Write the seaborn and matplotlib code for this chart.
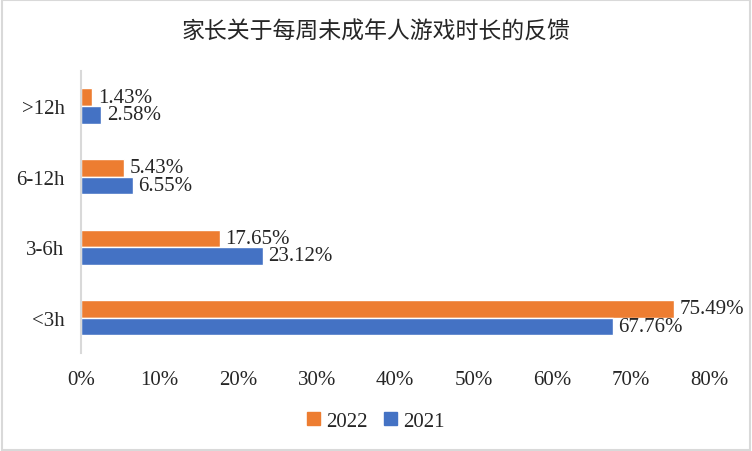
import pandas as pd
import seaborn as sns
import matplotlib.pyplot as plt
from matplotlib.patches import Patch

# data
categories = [">12h", "6-12h", "3-6h", "<3h"]
years = ["2022", "2021"]
values_2022 = [1.43, 5.43, 17.65, 75.49]
values_2021 = [2.58, 6.55, 23.12, 67.76]
colors = ["#ED7D31", "#4472C4"]

df = pd.DataFrame({
    "cat": categories * 2,
    "year": ["2022"] * 4 + ["2021"] * 4,
    "value": values_2022 + values_2021,
})

sns.set_theme(style="white")
plt.rcParams["font.family"] = ["Liberation Serif", "Noto Sans CJK SC", "DejaVu Sans"]

fig = plt.figure(figsize=(7.52, 4.52), dpi=100)
ax = fig.add_axes([0.108, 0.217, 0.835, 0.624])

sns.barplot(data=df, y="cat", x="value", hue="year", order=categories,
            hue_order=years, palette=colors, orient="h", width=0.5,
            saturation=1, legend=False, ax=ax)

for cont in ax.containers:
    ax.bar_label(cont, labels=[f"{v:.2f}%" for v in cont.datavalues],
                 padding=4, fontsize=15)

ax.set_xlim(0, 80)
ax.set_xticks(range(0, 81, 10))
ax.set_xticklabels([f"{t}%" for t in range(0, 81, 10)], fontsize=15)
ax.tick_params(axis="y", labelsize=15, length=0, pad=12)
ax.tick_params(axis="x", length=0, pad=12)
ax.set_xlabel("")
ax.set_ylabel("")
for s in ["top", "right", "bottom"]:
    ax.spines[s].set_visible(False)
ax.spines["left"].set_color("#d9d9d9")
ax.spines["left"].set_linewidth(1.5)

fig.suptitle("家长关于每周未成年人游戏时长的反馈", y=0.955, fontsize=16.5,
             family=["Noto Sans CJK SC", "DejaVu Sans"])

handles = [Patch(color=c, label=y) for c, y in zip(colors, years)]
fig.legend(handles=handles, loc="center", bbox_to_anchor=(0.5, 0.066), ncol=2,
           frameon=False, fontsize=15, handlelength=0.6, handleheight=0.6,
           handletextpad=0.3, columnspacing=0.8)

# light grey frame around the picture
fig.patches.append(plt.Rectangle((0.002, 0.002), 0.996, 0.996, fill=False,
                                 edgecolor="#d9d9d9", linewidth=1.5,
                                 transform=fig.transFigure))

fig.savefig("out.png", dpi=100)
